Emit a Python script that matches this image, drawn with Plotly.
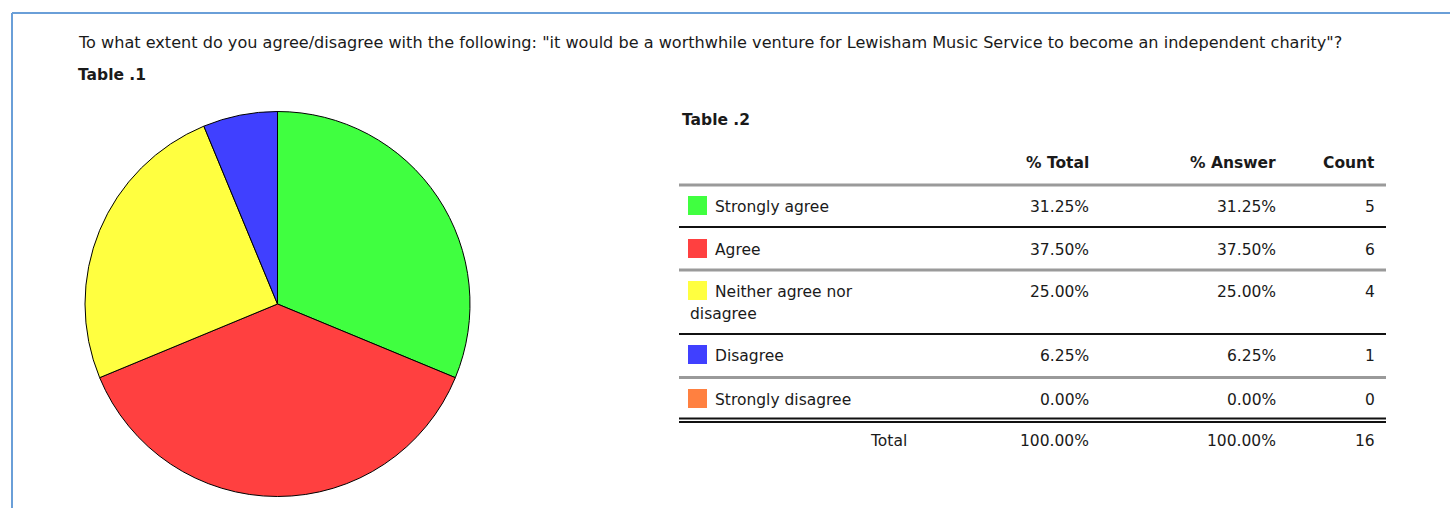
import plotly.graph_objects as go

W, H = 1450, 508

title_text = 'To what extent do you agree/disagree with the following: "it would be a worthwhile venture for Lewisham Music Service to become an independent charity"?'
categories = ["Strongly agree", "Agree", "Neither agree nor disagree", "Disagree", "Strongly disagree"]
row_labels = ["Strongly agree", "Agree", "Neither agree nor<br>disagree", "Disagree", "Strongly disagree"]
counts = [5, 6, 4, 1, 0]
pct_total = ["31.25%", "37.50%", "25.00%", "6.25%", "0.00%"]
pct_answer = ["31.25%", "37.50%", "25.00%", "6.25%", "0.00%"]
total_row = ["Total", "100.00%", "100.00%", "16"]
headers = ["% Total", "% Answer", "Count"]
colors = ["#40FF40", "#FF4040", "#FFFF40", "#4040FF", "#FF8040"]

FONT = "DejaVu Sans, Liberation Sans, Arial, sans-serif"
TXT = "#1a1a1a"
FS = 15.5
DY = 1

fig = go.Figure()

# pie (pixel box: x 85-470, y 111-497)
fig.add_trace(go.Pie(
    labels=categories, values=counts, sort=False, direction="clockwise", rotation=0,
    marker=dict(colors=colors, line=dict(color="#000000", width=1)),
    textinfo="none", hoverinfo="label+value+percent", showlegend=False,
    domain=dict(x=[85 / W, 470 / W], y=[1 - 497 / H, 1 - 111 / H]),
))

shapes = []
annotations = []

def txt(x, y, s, anchor="left", bold=False, size=FS):
    annotations.append(dict(
        x=x, y=y + DY, xref="x", yref="y", text=f"<b>{s}</b>" if bold else s,
        showarrow=False, xanchor=anchor, yanchor="middle",
        font=dict(family=FONT, size=size, color=TXT), align="left",
    ))

def hline(y, color, width):
    shapes.append(dict(type="line", xref="x", yref="y", x0=679, x1=1386, y0=y, y1=y,
                       line=dict(color=color, width=width)))

# border frame
shapes.append(dict(type="line", xref="x", yref="y", x0=12, x1=W + 5, y0=13, y1=13,
                   line=dict(color="#6a9fd8", width=2)))
shapes.append(dict(type="line", xref="x", yref="y", x0=12, x1=12, y0=13, y1=H + 5,
                   line=dict(color="#6a9fd8", width=2)))

txt(76, 41, title_text, size=16.1)
txt(76, 74, "Table .1", bold=True)
txt(680, 119, "Table .2", bold=True)

col_x = [1091, 1278, 1377]
for cx, h in zip(col_x, headers):
    txt(cx, 162, h, anchor="right", bold=True)

hline(185, "#9a9a9a", 3)
row_y = [206, 249, 291, 355, 399]
sq_top = [196, 239, 281, 345, 389]
sep = [(227, "#111111", 2), (270, "#9a9a9a", 3), (334, "#111111", 2), (377.5, "#9a9a9a", 3)]
for y, c, w in sep:
    hline(y, c, w)
hline(418.5, "#111111", 2)
hline(422, "#111111", 2)

for i in range(len(categories)):
    shapes.append(dict(type="rect", xref="x", yref="y", x0=688, x1=707, y0=sq_top[i], y1=sq_top[i] + 19,
                       fillcolor=colors[i], line=dict(color=colors[i], width=0)))
    lab = row_labels[i]
    if "<br>" in lab:
        first, second = lab.split("<br>")
        txt(713, row_y[i], first)
        txt(688, row_y[i] + 22, second)
    else:
        txt(713, row_y[i], lab)
    txt(col_x[0], row_y[i], pct_total[i], anchor="right")
    txt(col_x[1], row_y[i], pct_answer[i], anchor="right")
    txt(col_x[2], row_y[i], str(counts[i]), anchor="right")

txt(909, 440, total_row[0], anchor="right")
for cx, s in zip(col_x, total_row[1:]):
    txt(cx, 440, s, anchor="right")

fig.update_layout(
    width=W, height=H, margin=dict(l=0, r=0, t=0, b=0),
    paper_bgcolor="white", plot_bgcolor="white",
    xaxis=dict(range=[0, W], visible=False, domain=[0, 1], fixedrange=True),
    yaxis=dict(range=[H, 0], visible=False, domain=[0, 1], fixedrange=True),
    shapes=shapes, annotations=annotations, showlegend=False,
)

fig.write_html("out.html", config={"displayModeBar": False},
               post_script="document.body.style.margin='0';document.body.style.overflow='hidden';")
